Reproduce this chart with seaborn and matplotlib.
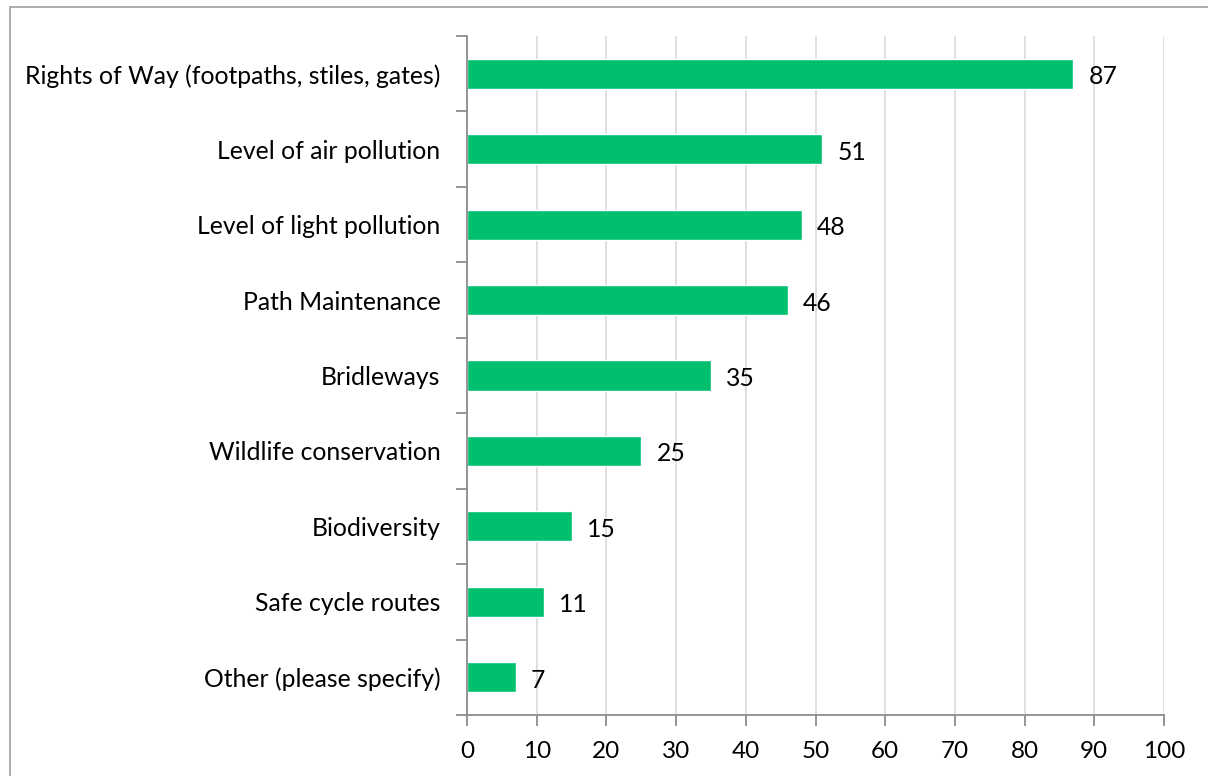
import matplotlib
matplotlib.use("Agg")
import matplotlib.pyplot as plt
import seaborn as sns
import pandas as pd
from matplotlib.patches import Rectangle
from matplotlib.ticker import FixedLocator

categories = [
    "Rights of Way (footpaths, stiles, gates)",
    "Level of air pollution",
    "Level of light pollution",
    "Path Maintenance",
    "Bridleways",
    "Wildlife conservation",
    "Biodiversity",
    "Safe cycle routes",
    "Other (please specify)",
]
values = [87, 51, 48, 46, 35, 25, 15, 11, 7]
xticks = [0, 10, 20, 30, 40, 50, 60, 70, 80, 90, 100]

df = pd.DataFrame({"category": categories, "value": values})

sns.set_theme(style="white")
plt.rcParams["font.family"] = ["Lato", "DejaVu Sans"]

W, H = 1208, 776
fig = plt.figure(figsize=(W / 100, H / 100), dpi=100)
ax = fig.add_axes([467 / W, 61 / H, (1164 - 467) / W, (715 - 36) / H])

sns.barplot(data=df, x="value", y="category", orient="h", color="#00BF6F",
            saturation=1, width=0.4, ax=ax)

ax.set_xlim(0, 100)
ax.set_ylim(len(categories) - 0.5, -0.5)
ax.set_xticks(xticks)
ax.set_xlabel("")
ax.set_ylabel("")
ax.xaxis.grid(True, color="#D9D9D9", linewidth=1.2)
ax.set_axisbelow(True)

for s in ["top", "right"]:
    ax.spines[s].set_visible(False)
for s in ["left", "bottom"]:
    ax.spines[s].set_color("#8C8C8C")
    ax.spines[s].set_linewidth(1.3)

ax.tick_params(axis="x", which="major", length=8, width=1.3, color="#8C8C8C",
               labelsize=17.5, pad=11, labelcolor="black", direction="out", bottom=True)
ax.tick_params(axis="y", which="major", length=0, labelsize=17.8, pad=19, labelcolor="black")
ax.yaxis.set_minor_locator(FixedLocator([i - 0.5 for i in range(len(categories) + 1)]))
ax.tick_params(axis="y", which="minor", length=8, width=1.3, color="#8C8C8C",
               direction="out", left=True)

for i, v in enumerate(values):
    ax.text(v + 2.2, i + 0.04, str(v), va="center", ha="left", fontsize=17.8, color="black")

fig.patches.append(Rectangle((10 / W, -0.1), 1.2, (H - 7) / H + 0.1,
                             transform=fig.transFigure, fill=False,
                             edgecolor="#A6A6A6", linewidth=1.3))

fig.savefig("out.png", dpi=100)
